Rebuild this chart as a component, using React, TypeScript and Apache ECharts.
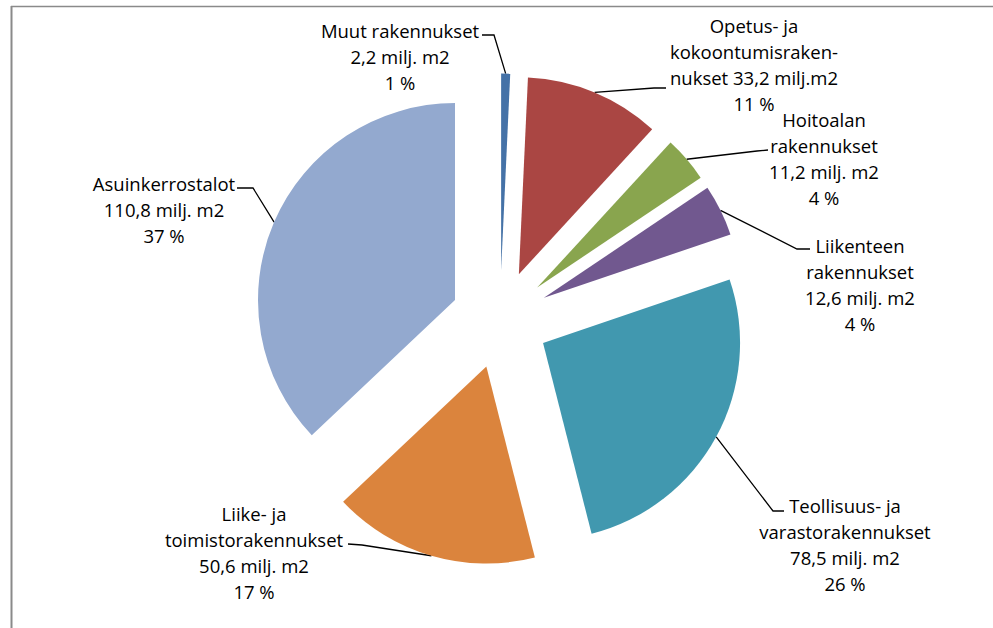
import React, { useEffect, useRef } from "react";
import * as echarts from "echarts";

// ---- data ----
const categories = [
  "Muut rakennukset",
  "Opetus- ja kokoontumisrakennukset",
  "Hoitoalan rakennukset",
  "Liikenteen rakennukset",
  "Teollisuus- ja varastorakennukset",
  "Liike- ja toimistorakennukset",
  "Asuinkerrostalot",
];
const labelHeads = [
  "Muut rakennukset\n",
  "Opetus- ja\nkokoontumisraken-\nnukset ",
  "Hoitoalan\nrakennukset\n",
  "Liikenteen\nrakennukset\n",
  "Teollisuus- ja\nvarastorakennukset\n",
  "Liike- ja\ntoimistorakennukset\n",
  "Asuinkerrostalot\n",
];
const valueUnits = ["milj. m2", "milj.m2", "milj. m2", "milj. m2", "milj. m2", "milj. m2", "milj. m2"];
const values = [2.2, 33.2, 11.2, 12.6, 78.5, 50.6, 110.8];

// ---- styles / layout ----
const colors = ["#4572A7", "#AA4643", "#89A54E", "#71588F", "#4198AF", "#DB843D", "#93A9CF"];
const CX = 500;
const CY = 319.5;
const R = 197;
const EXPLODE = 49;
const labelAnchors: number[][] = [
  [400, 56],
  [754, 64],
  [824, 158],
  [860, 284],
  [845, 544],
  [254, 552],
  [164, 209],
];
const leaderTails: number[][][] = [
  [[494, 35], [482, 35]],
  [[654, 88], [666, 88]],
  [[757, 151], [768, 150]],
  [[797, 249], [810, 249]],
  [[773, 511], [784, 511]],
  [[362, 545], [348, 544]],
  [[253, 188], [237, 188]],
];

export default function App() {
  const ref = useRef<HTMLDivElement>(null);
  useEffect(() => {
    if (!ref.current) return;
    const chart = echarts.init(ref.current, undefined, { renderer: "svg" });
    const total = values.reduce((a, b) => a + b, 0);
    const mids: number[] = [];
    let acc = 0;
    values.forEach((v) => {
      mids.push(((acc + v / 2) / total) * 2 * Math.PI);
      acc += v;
    });
    const dirs = mids.map((a) => [Math.sin(a), -Math.cos(a)]);

    const labelLayout = (p: any) => {
      const i = p.dataIndex;
      const d = dirs[i];
      const start = [CX + (EXPLODE + R) * d[0], CY + (EXPLODE + R) * d[1]];
      return {
        x: labelAnchors[i][0],
        y: labelAnchors[i][1],
        align: "center",
        verticalAlign: "middle",
        labelLinePoints: [start, ...leaderTails[i]],
      };
    };

    const series = values.map((_, si) => ({
      type: "pie",
      silent: true,
      animation: false,
      startAngle: 90,
      clockwise: true,
      radius: R,
      center: [CX + EXPLODE * dirs[si][0], CY + EXPLODE * dirs[si][1]],
      avoidLabelOverlap: false,
      emphasis: { disabled: true },
      itemStyle: { borderWidth: 0 },
      label: {
        position: "outside",
        alignTo: "none",
        color: "#000",
        fontFamily: '"Open Sans", sans-serif',
        fontSize: 18.5,
        lineHeight: 26,
        formatter: (p: any) =>
          `${labelHeads[p.dataIndex]}${p.value.toFixed(1).replace(".", ",")} ${valueUnits[p.dataIndex]}\n${Math.round(
            (p.value / total) * 100
          )} %`,
      },
      labelLine: { show: true, smooth: false, lineStyle: { color: "#000", width: 1.3 } },
      labelLayout,
      data: values.map((v, j) => ({
        name: categories[j],
        value: v,
        itemStyle: { color: j === si ? colors[j] : "rgba(0,0,0,0)", borderWidth: 0 },
        label: { show: j === si },
        labelLine: { show: j === si },
      })),
    }));

    chart.setOption({
      animation: false,
      backgroundColor: "#ffffff",
      graphic: [
        { type: "line", silent: true, shape: { x1: 11, y1: 6.5, x2: 993, y2: 6.5 }, style: { stroke: "#8a8a8a", lineWidth: 1.5 } },
        { type: "line", silent: true, shape: { x1: 11.5, y1: 6, x2: 11.5, y2: 628 }, style: { stroke: "#8a8a8a", lineWidth: 2 } },
      ],
      series,
    } as any);
    return () => chart.dispose();
  }, []);
  return (
    <div
      ref={ref}
      style={{ position: "fixed", left: 0, top: 0, width: 993, height: 628, background: "#fff" }}
    />
  );
}
